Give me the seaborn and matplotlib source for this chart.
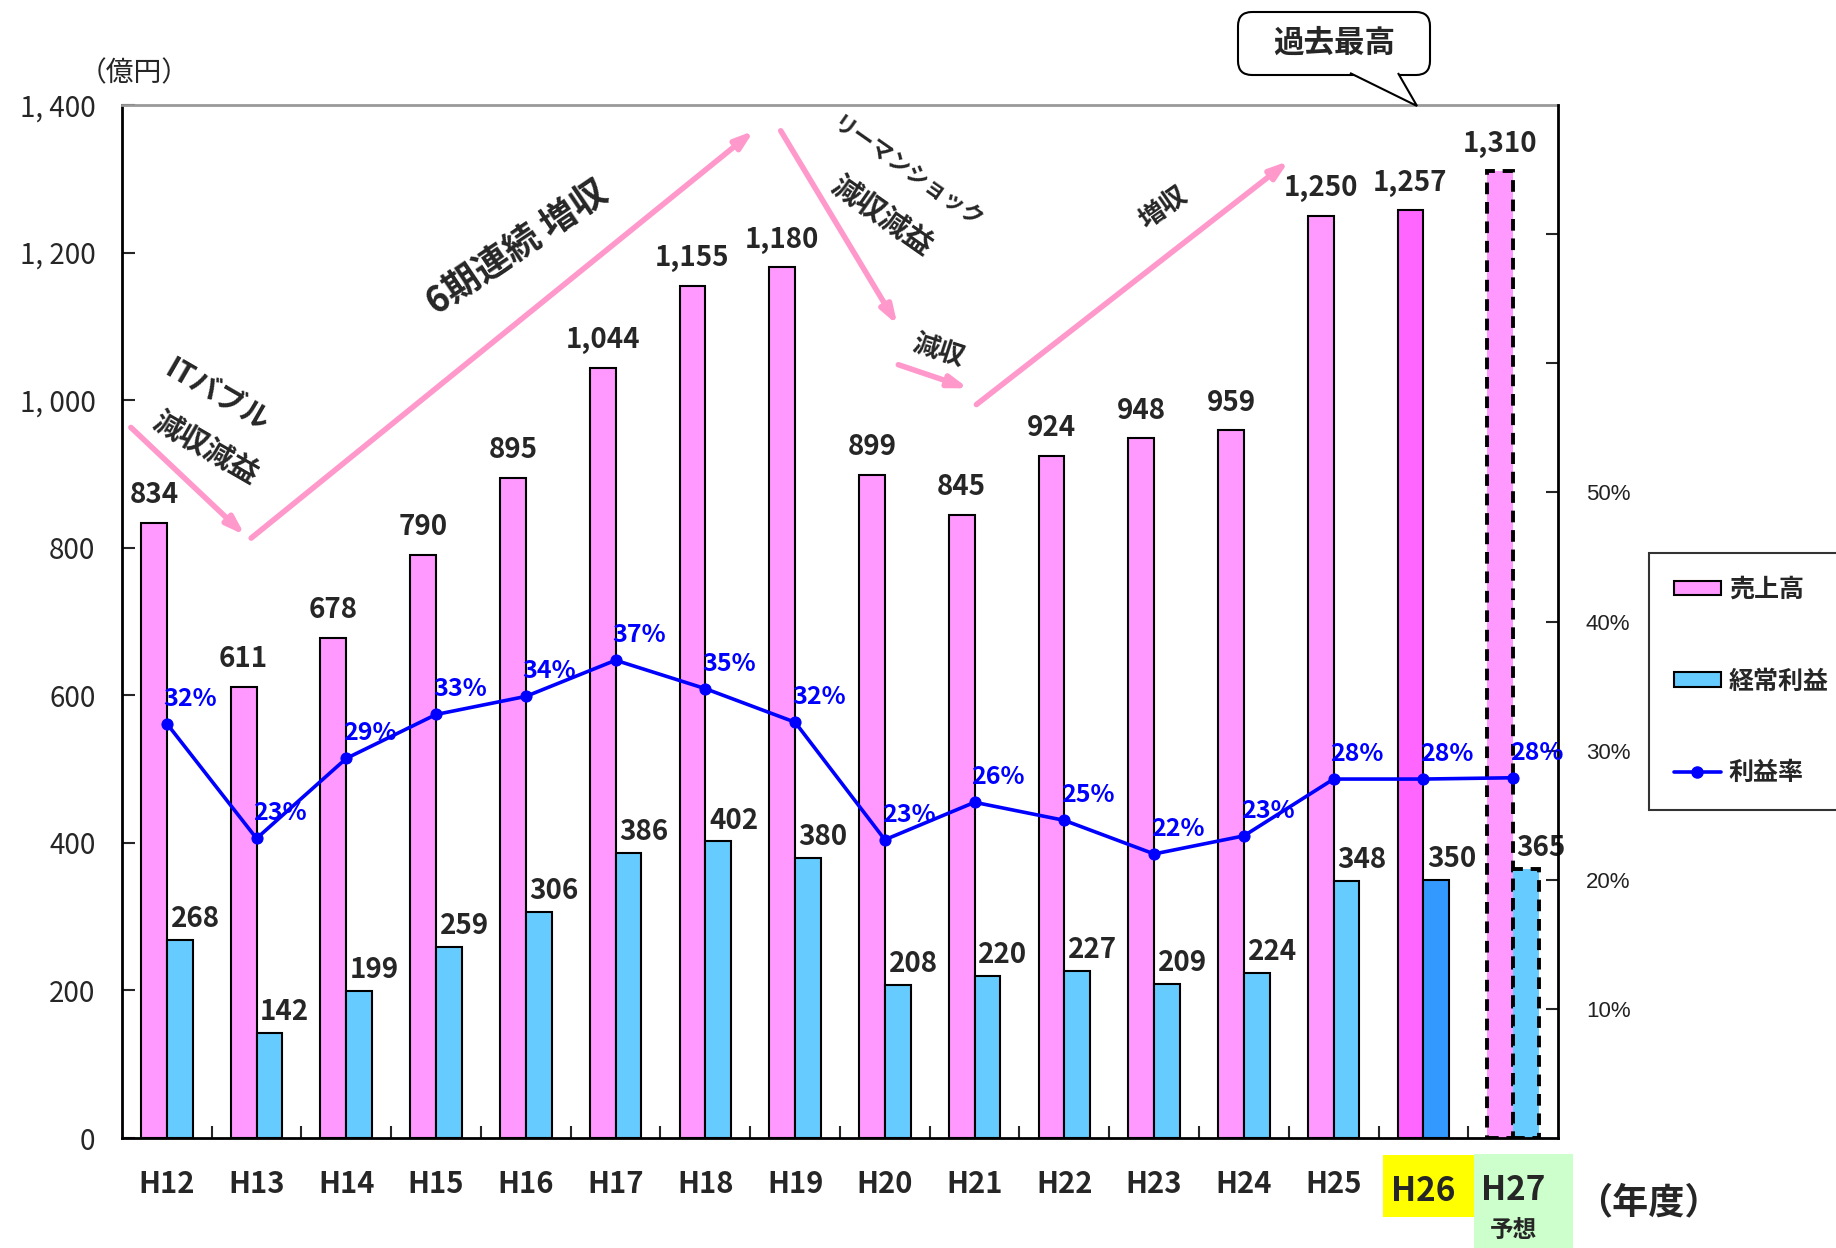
import numpy as np
import pandas as pd
import seaborn as sns
import matplotlib.pyplot as plt
from matplotlib.patches import Patch, Rectangle, FancyBboxPatch, Polygon
from matplotlib.lines import Line2D
from matplotlib.transforms import blended_transform_factory

# data
years = ['H12', 'H13', 'H14', 'H15', 'H16', 'H17', 'H18', 'H19',
         'H20', 'H21', 'H22', 'H23', 'H24', 'H25', 'H26', 'H27']
sales = [834, 611, 678, 790, 895, 1044, 1155, 1180, 899, 845, 924, 948, 959, 1250, 1257, 1310]
profit = [268, 142, 199, 259, 306, 386, 402, 380, 208, 220, 227, 209, 224, 348, 350, 365]
rate = [32.1, 23.2, 29.4, 32.8, 34.2, 37.0, 34.8, 32.2, 23.1, 26.0, 24.6, 22.0, 23.4, 27.8, 27.8, 27.9]
rate_labels = ['32%', '23%', '29%', '33%', '34%', '37%', '35%', '32%',
               '23%', '26%', '25%', '22%', '23%', '28%', '28%', '28%']
left_ticks = [0, 200, 400, 600, 800, 1000, 1200, 1400]
left_tick_labels = ['0', '200', '400', '600', '800', '1, 000', '1, 200', '1, 400']
right_ticks = [10, 20, 30, 40, 50, 60, 70]
right_tick_labels = ['10%', '20%', '30%', '40%', '50%', '', '']

PINK = '#FF99FF'
BLUE = '#66CCFF'
PINK_DARK = '#FF66FF'
BLUE_DARK = '#3399FF'
ARROW = '#FF99CC'
LINE = '#0000FF'

sns.set_theme(style='white')
plt.rcParams['font.family'] = ['Noto Sans CJK JP', 'DejaVu Sans']

n = len(years)
df = pd.DataFrame({'年度': years * 2,
                   '系列': ['売上高'] * n + ['経常利益'] * n,
                   '値': sales + profit})

fig = plt.figure(figsize=(18.36, 12.48), dpi=100)
ax = fig.add_axes([0.0664, 0.0881, 0.7822, 0.8278])

sns.barplot(data=df, x='年度', y='値', hue='系列', hue_order=['売上高', '経常利益'],
            palette=[PINK, BLUE], saturation=1, width=0.575, edgecolor='black',
            linewidth=1.5, errorbar=None, legend=False, ax=ax)

sales_bars, profit_bars = ax.containers[0], ax.containers[1]
sales_bars[14].set_facecolor(PINK_DARK)
profit_bars[14].set_facecolor(BLUE_DARK)
for b in (sales_bars[15], profit_bars[15]):
    b.set_linestyle((0, (3, 2)))
    b.set_linewidth(2.8)

# value labels
for v, b in zip(sales, sales_bars):
    ax.annotate(f'{v:,}', (b.get_x() + b.get_width() / 2, v), xytext=(0, 20),
                textcoords='offset points', ha='center', va='center',
                fontsize=20, fontweight='bold', annotation_clip=False)
for v, b in zip(profit, profit_bars):
    ax.annotate(f'{v}', (b.get_x() + b.get_width() / 2, v), xytext=(11, 15),
                textcoords='offset points', ha='center', va='center',
                fontsize=20, fontweight='bold')

ax.set_ylim(0, 1400)
ax.set_yticks(left_ticks)
ax.set_yticklabels(left_tick_labels)
ax.set_xlabel('')
ax.set_ylabel('')
ax.tick_params(axis='y', direction='in', length=9, width=1.5, pad=19, labelsize=20)
ax.set_xticks(range(n))
ax.set_xticklabels(years[:14] + ['', ''])
ax.tick_params(axis='x', length=0, pad=22, labelsize=21)
for lbl in ax.get_xticklabels():
    lbl.set_fontweight('bold')
ax.set_xticks(np.arange(0.5, n - 1, 1.0), minor=True)
ax.tick_params(axis='x', which='minor', direction='in', length=9, width=1.5, bottom=True)

for side in ['left', 'bottom']:
    ax.spines[side].set_color('black')
    ax.spines[side].set_linewidth(2)
ax.spines['top'].set_color('#999999')
ax.spines['top'].set_linewidth(2)
ax.spines['right'].set_visible(False)

# profit rate line
ax2 = ax.twinx()
sns.lineplot(x=np.arange(n), y=rate, ax=ax2, color=LINE, marker='o', markersize=8,
             markeredgecolor=LINE, linewidth=2.6)
ax2.set_ylim(0, 80)
ax2.set_yticks(right_ticks)
ax2.set_yticklabels(right_tick_labels)
ax2.tick_params(axis='y', direction='in', length=9, width=1.5, pad=20, labelsize=16,
                labelcolor='#222222')
for lbl in ax2.get_yticklabels():
    lbl.set_fontfamily('Liberation Sans')
for side in ['left', 'top', 'bottom']:
    ax2.spines[side].set_visible(False)
ax2.spines['right'].set_color('black')
ax2.spines['right'].set_linewidth(2)
ax2.set_ylabel('')
for i, (r, s) in enumerate(zip(rate, rate_labels)):
    ax2.annotate(s, (i, r), xytext=(17, 18), textcoords='offset points', ha='center',
                 va='center', fontsize=18, fontweight='bold', color=LINE,
                 annotation_clip=False)
ax.set_xlim(-0.5, n - 0.5)

# trend arrows and comments
arrow_kw = dict(arrowstyle='-|>,head_length=0.9,head_width=0.3', color=ARROW, lw=4,
                shrinkA=0, shrinkB=0)
for start, end in [((-0.40, 963), (0.87, 817)),
                   ((0.94, 813), (6.54, 1365)),
                   ((6.84, 1365), (8.14, 1102)),
                   ((8.15, 1048), (8.93, 1016)),
                   ((9.02, 994), (12.50, 1324))]:
    ax.annotate('', xy=end, xytext=start, arrowprops=arrow_kw, annotation_clip=False)

notes = [('ITバブル', 0.57, 1008, -30, 21),
         ('減収減益', 0.43, 935, -30, 21),
         ('6期連続 増収', 3.91, 1206, 34, 26),
         ('リーマンショック', 8.25, 1308, -35, 16),
         ('減収減益', 7.97, 1250, -35, 21),
         ('減収', 8.59, 1066, -18, 19),
         ('増収', 11.11, 1260, 35, 19)]
for s, x, y, rot, fs in notes:
    ax.text(x, y, s, rotation=rot, rotation_mode='anchor', ha='center', va='center',
            fontsize=fs, fontweight='bold', zorder=5)

# callout "過去最高" (drawn in figure inches)
din = fig.dpi_scale_trans
fig.add_artist(FancyBboxPatch((12.38, 11.73), 1.92, 0.63, transform=din,
                              boxstyle='round,pad=0,rounding_size=0.14',
                              facecolor='white', edgecolor='black', linewidth=1.5, zorder=3))
fig.add_artist(Polygon([(13.50, 11.75), (14.17, 11.42), (13.98, 11.75)], closed=False,
                       transform=din, facecolor='white', edgecolor='black',
                       linewidth=1.5, zorder=4))
fig.text(13.34, 12.05, '過去最高', transform=din, ha='center', va='center', fontsize=22,
         fontweight='bold', zorder=5)

# highlighted category labels
fig.add_artist(Rectangle((0.7533, 0.0248), 0.0496, 0.0497, transform=fig.transFigure,
                         facecolor='#FFFF00', edgecolor='none', zorder=0))
fig.add_artist(Rectangle((0.8028, 0.0), 0.0539, 0.0753, transform=fig.transFigure,
                         facecolor='#CCFFCC', edgecolor='none', zorder=0))
trans = blended_transform_factory(ax.transData, ax.transAxes)
ax.text(14, -0.052, 'H26', transform=trans, ha='center', va='center', fontsize=24,
        fontweight='bold')
ax.text(15, -0.051, 'H27', transform=trans, ha='center', va='center', fontsize=24,
        fontweight='bold')
ax.text(15, -0.089, '予想', transform=trans, ha='center', va='center', fontsize=17,
        fontweight='bold')
fig.text(0.898, 0.036, '（年度）', ha='center', va='center', fontsize=26, fontweight='bold')
fig.text(0.073, 0.9415, '（億円）', ha='center', va='center', fontsize=20)

handles = [Patch(facecolor=PINK, edgecolor='black', linewidth=1.5),
           Patch(facecolor=BLUE, edgecolor='black', linewidth=1.5),
           Line2D([], [], color=LINE, marker='o', markersize=8, linewidth=2.6)]
leg = fig.legend(handles, ['売上高', '経常利益', '利益率'], loc='upper left',
                 bbox_to_anchor=(0.898, 0.5569), borderaxespad=0, frameon=True,
                 fancybox=False, edgecolor='black', prop=dict(weight='bold', size=18),
                 labelspacing=2.7, handlelength=1.9, handleheight=0.5, borderpad=1.0,
                 handletextpad=0.3)
leg.get_frame().set_linewidth(1.5)

fig.savefig('out.png', dpi=100)
